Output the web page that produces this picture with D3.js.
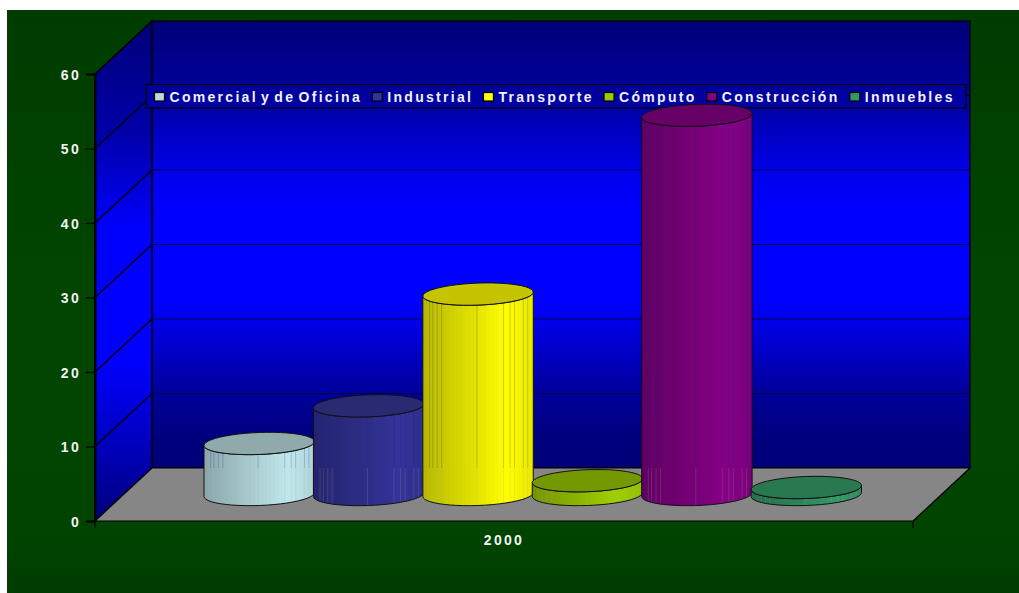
<!DOCTYPE html>
<html><head><meta charset="utf-8">
<script src="https://cdn.jsdelivr.net/npm/d3@7"></script>
<style>html,body{margin:0;padding:0;background:#fff;overflow:hidden}svg{display:block}
text{font-family:"Liberation Sans",Arial,sans-serif;font-weight:bold;font-size:14px;letter-spacing:2.3px;word-spacing:-3px;fill:#f2f2f2}</style>
</head><body><svg id="c" width="1019" height="593"></svg>
<script>
const seriesNames = ["Comercial y de Oficina","Industrial","Transporte","Cómputo","Construcción","Inmuebles"];
const seriesValues = [6.85,11.9,26.9,1.85,50.9,0.94];
const seriesColors = ["#c0e8ec","#333399","#ffff00","#a0d000","#860086","#339966"];
const keyColors = ["#b8dcdc","#333399","#ffff00","#99cc00","#800080","#339966"];
const topColors = ["#8eaaaa","#2a2a72","#c4c400","#749800","#660066","#2a7850"];
const categories = ["2000"];
const yTicks = [0,10,20,30,40,50,60];
const seamFractions = [.06,.09,.13,.17,.49,.73,.79,.83,.91,.95];

const W=1019,H=593;
const svg=d3.select("#c");
const defs=svg.append("defs");
function grad(id,stops,v=true){const g=defs.append("linearGradient").attr("id",id).attr("x1",0).attr("y1",0).attr("x2",v?0:1).attr("y2",v?1:0);
 stops.forEach(s=>g.append("stop").attr("offset",s[0]).attr("stop-color",s[1]));return g;}
grad("bg",[[0,"#003c00"],[.5,"#004600"],[.9,"#004400"],[1,"#003c00"]]);
grad("wall",[[0,"#000078"],[.177,"#0000a0"],[.333,"#0000e8"],[.42,"#0000ff"],[.626,"#0000ff"],[.738,"#0000c8"],[.836,"#000098"],[.94,"#00007c"],[1,"#000078"]]);
grad("side",[[0,"#000078"],[.22,"#0000a8"],[.42,"#0000ff"],[.68,"#0000ff"],[.86,"#0000b8"],[1,"#000078"]]);
grad("legendBg",[[0,"#000098"],[1,"#0000a8"]]);

svg.append("rect").attr("x",7).attr("y",10).attr("width",W-7).attr("height",H-10).attr("fill","url(#bg)");

const frontLeft=95, frontRight=913, dx=57, dy=-53;
const y=d3.scaleLinear().domain([0,60]).range([521,74]);
const yBack=v=>y(v)+dy;
const line=d3.line();

svg.append("rect").attr("x",frontLeft+dx).attr("y",yBack(60)).attr("width",frontRight-frontLeft).attr("height",yBack(0)-yBack(60))
 .attr("fill","url(#wall)").attr("stroke","#000").attr("stroke-width",1.3);
svg.append("path").attr("d",line([[frontLeft,y(0)],[frontLeft+dx,yBack(0)],[frontLeft+dx,yBack(60)],[frontLeft,y(60)]])+"Z")
 .attr("fill","url(#side)").attr("stroke","#000").attr("stroke-width",1.6);
svg.append("path").attr("d",line([[frontLeft,y(0)],[frontLeft+dx,yBack(0)],[frontRight+dx,yBack(0)],[frontRight,y(0)]])+"Z")
 .attr("fill","#868686").attr("stroke","#000").attr("stroke-width",1.2);

yTicks.slice(1,-1).forEach(v=>{
 svg.append("path").attr("fill","none").attr("stroke","#000").attr("stroke-width",1.3)
  .attr("d",line([[frontLeft,y(v)],[frontLeft+dx,yBack(v)]]));
 svg.append("path").attr("fill","none").attr("stroke","#00004c").attr("stroke-width",1)
  .attr("d",line([[frontLeft+dx,yBack(v)],[frontRight+dx,yBack(v)]]));
});

// axes
const ax=svg.append("g").attr("transform",`translate(${frontLeft},0)`)
 .call(d3.axisLeft(y).tickValues(yTicks).tickSize(9).tickPadding(5));
ax.selectAll("path,line").attr("stroke","#000").attr("stroke-width",1.3);
ax.select(".domain").attr("stroke-width",2);
ax.selectAll("text").style("font-family",null).attr("font-size",null).attr("dy","0.36em");
const xCat=d3.scaleBand().domain(categories).range([frontLeft,frontRight]);
const axb=svg.append("g").attr("transform",`translate(0,${y(0)})`)
 .call(d3.axisBottom(xCat).tickSize(0).tickPadding(14));
axb.select(".domain").remove();
axb.selectAll("text").style("font-family",null).attr("font-size",null);
[frontLeft,frontRight].forEach(x=>svg.append("line").attr("x1",x).attr("x2",x).attr("y1",y(0)).attr("y2",y(0)+7).attr("stroke","#000").attr("stroke-width",1.1));

// legend (cylinders are drawn over it)
const lg=svg.append("g");
const lx0=146, lx1=966, ly0=84.5, ly1=108;
svg.append("line").attr("x1",lx1).attr("x2",frontRight+dx).attr("y1",yBack(50)).attr("y2",yBack(50)).attr("stroke","#000");
lg.append("rect").attr("x",lx0).attr("y",ly0).attr("width",lx1-lx0).attr("height",ly1-ly0).attr("fill","url(#legendBg)").attr("stroke","#000").attr("stroke-width",1.2);
let lx=154.5;
seriesNames.forEach((name,i)=>{
 lg.append("rect").attr("x",lx).attr("y",92.5).attr("width",10).attr("height",8.5).attr("fill",keyColors[i]).attr("stroke","#000").attr("stroke-width",1.2);
 const t=lg.append("text").attr("x",lx+15).attr("y",102).text(name);
 lx+=15+t.node().getComputedTextLength()+10.2;
});

// cylinders
const band=d3.scaleBand().domain(seriesNames).range([204.5,861]);
const baseY=494.5, ry=11, shear=2;
const cyl=d3.scaleLinear().domain([0,60]).range([0,447]);
seriesNames.forEach((name,i)=>{
 const rx=band.bandwidth()/2+.5, cx=band(name)+band.bandwidth()/2;
 const tv=baseY-cyl(seriesValues[i]);
 const pt=(c,t)=>[cx+rx*Math.cos(t),c+ry*Math.sin(t)-shear*Math.cos(t)];
 const front=d3.range(0,25).map(k=>k/24*Math.PI);
 const gid="body"+i, col=d3.color(seriesColors[i]);
 const ramp=d3.scaleLinear().domain([0,.08,.5,.76,1])
   .range([col.darker(.95),col.darker(.8),col.darker(.3),col,col.darker(.25)].map(String));
 const g0=defs.append("linearGradient").attr("id",gid).attr("x1",0).attr("y1",0).attr("x2",1).attr("y2",0);
 const nb=28;
 d3.range(nb).forEach(k=>{
  const c=ramp((k+.5)/nb);
  g0.append("stop").attr("offset",k/nb).attr("stop-color",c);
  g0.append("stop").attr("offset",(k+1)/nb).attr("stop-color",c);
 });
 const g=svg.append("g");
 const bodyPts=front.map(t=>pt(tv,t)).concat(front.slice().reverse().map(t=>pt(baseY,t)));
 g.append("path").attr("d",line(bodyPts)+"Z").attr("fill",`url(#${gid})`);
 const wallY=yBack(0);
 seamFractions.forEach(f=>{
  const t=Math.acos(1-2*f);
  const [sx,sTop]=pt(tv,Math.PI-t);
  const sBot=pt(baseY,Math.PI-t)[1];
  if(sTop<wallY) g.append("line").attr("x1",sx).attr("x2",sx).attr("y1",sTop).attr("y2",Math.min(wallY,sBot))
    .attr("stroke","#20209a").attr("stroke-opacity",.22);
  if(sBot>wallY) g.append("line").attr("x1",sx).attr("x2",sx).attr("y1",Math.max(wallY,sTop)).attr("y2",sBot)
    .attr("stroke","#b0b0b0").attr("stroke-opacity",.2);
 });
 g.append("path").attr("d",line(bodyPts)+"Z").attr("fill","none").attr("stroke","#111").attr("stroke-width",1);
 const full=d3.range(0,48).map(k=>pt(tv,k/48*2*Math.PI));
 g.append("path").attr("d",line(full)+"Z").attr("fill",topColors[i]).attr("stroke","#111").attr("stroke-width",1);
});
</script></body></html>
